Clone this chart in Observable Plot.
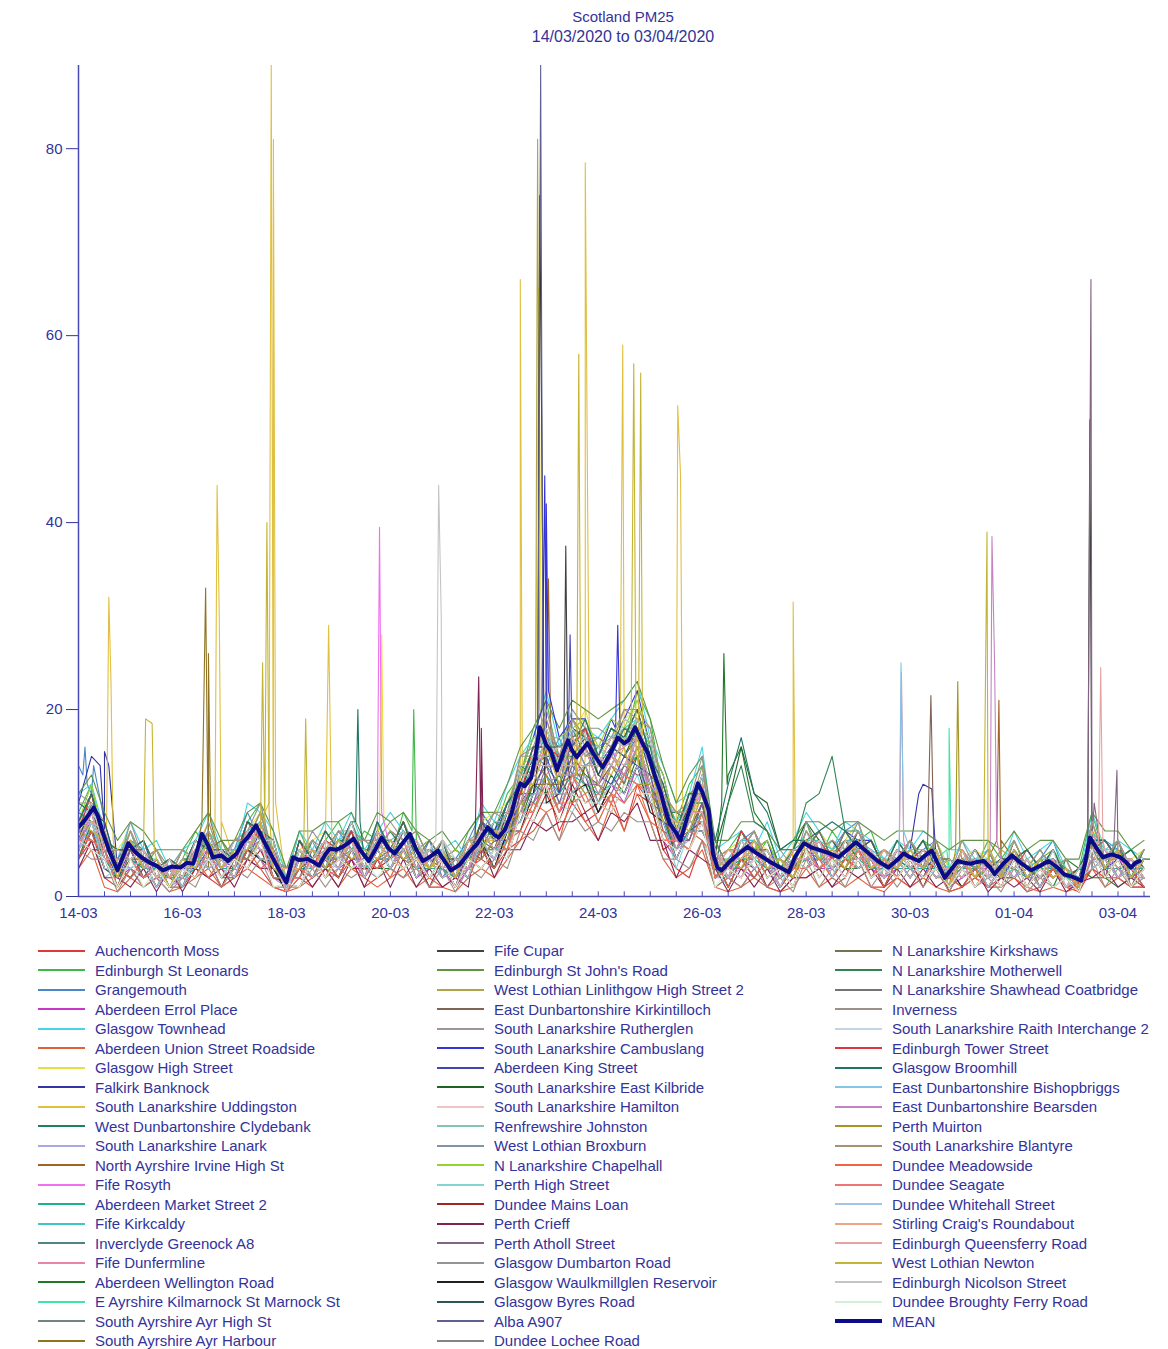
<!DOCTYPE html>
<html><head><meta charset="utf-8">
<script src="https://cdn.jsdelivr.net/npm/d3@7"></script>
<script src="https://cdn.jsdelivr.net/npm/@observablehq/plot@0.6"></script>
<style>
body{margin:0;background:#fff;font-family:"Liberation Sans",Arial,sans-serif;}
#wrap{position:relative;width:1168px;height:1349px;overflow:hidden;background:#fff;}
.t{position:absolute;left:623px;transform:translateX(-50%);color:#33339a;white-space:nowrap;line-height:1;}
#chart{position:absolute;left:0;top:50px;}
#ylab{position:absolute;left:20px;top:482px;transform:translate(-50%,-50%) rotate(-90deg);font-size:14px;color:#33339a;white-space:nowrap;}
.leg{position:absolute;top:941px;}
.row{height:19.5px;display:flex;align-items:center;}
.sw{width:47px;height:0;margin-right:10px;}
.lt{font-size:15px;color:#33339a;white-space:nowrap;}
</style></head>
<body>
<div id="wrap">
  <div class="t" style="top:9px;font-size:15px">Scotland PM25</div>
  <div class="t" style="top:29px;font-size:16px">14/03/2020 to 03/04/2020</div>
  <div id="ylab">PM25 ug/m<sup style="font-size:10px">3</sup></div>
  <div id="chart"></div>
</div>
<script>
// ---------- data ----------
const startDate = "2020-03-14T00:00Z";
const stepHours = 6; // station readings every 6 hours from start
const xTickLabels = ["2020-03-14","2020-03-16","2020-03-18","2020-03-20","2020-03-22","2020-03-24","2020-03-26","2020-03-28","2020-03-30","2020-04-01","2020-04-03"];
const yTicks = [0, 20, 40, 60, 80];

const stationNames = [
"Auchencorth Moss","Edinburgh St Leonards","Grangemouth","Aberdeen Errol Place","Glasgow Townhead","Aberdeen Union Street Roadside","Glasgow High Street","Falkirk Banknock","South Lanarkshire Uddingston","West Dunbartonshire Clydebank","South Lanarkshire Lanark","North Ayrshire Irvine High St","Fife Rosyth","Aberdeen Market Street 2","Fife Kirkcaldy","Inverclyde Greenock A8","Fife Dunfermline","Aberdeen Wellington Road","E Ayrshire Kilmarnock St Marnock St","South Ayrshire Ayr High St","South Ayrshire Ayr Harbour",
"Fife Cupar","Edinburgh St John's Road","West Lothian Linlithgow High Street 2","East Dunbartonshire Kirkintilloch","South Lanarkshire Rutherglen","South Lanarkshire Cambuslang","Aberdeen King Street","South Lanarkshire East Kilbride","South Lanarkshire Hamilton","Renfrewshire Johnston","West Lothian Broxburn","N Lanarkshire Chapelhall","Perth High Street","Dundee Mains Loan","Perth Crieff","Perth Atholl Street","Glasgow Dumbarton Road","Glasgow Waulkmillglen Reservoir","Glasgow Byres Road","Alba A907","Dundee Lochee Road",
"N Lanarkshire Kirkshaws","N Lanarkshire Motherwell","N Lanarkshire Shawhead Coatbridge","Inverness","South Lanarkshire Raith Interchange 2","Edinburgh Tower Street","Glasgow Broomhill","East Dunbartonshire Bishopbriggs","East Dunbartonshire Bearsden","Perth Muirton","South Lanarkshire Blantyre","Dundee Meadowside","Dundee Seagate","Dundee Whitehall Street","Stirling Craig's Roundabout","Edinburgh Queensferry Road","West Lothian Newton","Edinburgh Nicolson Street","Dundee Broughty Ferry Road"];

const stationColors = [
"#e03838","#40b848","#4a86c8","#c838c8","#48d4e4","#e0603c","#e8e040","#3434a4","#e0c040","#208060","#a8a8e4","#a06424","#f070f0","#20b090","#40c4c4","#508484","#e884a8","#207828","#40e4a4","#708484","#907424",
"#404040","#609444","#b0a448","#806454","#a09494","#3434d8","#4444b4","#206424","#f0c4c4","#84c4b4","#8494a4","#94d430","#84d4d4","#a42424","#802454","#846484","#949494","#202020","#305454","#606094","#848484",
"#747454","#308454","#747474","#9c9088","#c4d4e4","#e03444","#207464","#84c4e4","#c484c4","#a49424","#a49474","#f06444","#f07474","#a4c4e4","#f0a484","#e4a4a4","#c4b434","#c4c4c4","#d4f0d4"];

const meanName = "MEAN";
const meanColor = "#0c0c8a";

// readings at 6 h steps (index i -> hour 6*i), 4 per day
const stationValues = [
[4,6,2,1, 3,1,2,2, 1,3,2,1, 2,4,3,1, 0.5,2,1,3, 2,4,1,2, 3,2,4,1, 1,2,3,4, 3,5,6,9, 12,7,10,8, 9,11,7,12, 10,5,3,2, 6,1,2,1, 3,1,0.5,2, 2,3,1,2, 4,1,1,2, 1,2,3,0.5, 1,2,1,2, 2,0.5,1,3, 1,0.5,3,2, 2,1,1],
[9,12,5,4, 7,3,5,2, 4,7,5,6, 3,8,10,4, 2,7,4,6, 8,5,7,6, 4,9,6,4, 6,3,7,9, 7,11,13,18, 21,14,19,17, 15,18,16,22, 19,11,8,12, 14,4,5,7, 4,6,3,5, 8,4,7,5, 6,7,3,5, 4,6,5,2, 5,3,6,4, 6,3,4,5, 2,3,9,4, 6,3,5],
[14,11,8,3, 6,5,2,4, 3,5,7,3, 5,9,6,2, 2,4,6,3, 7,5,3,8, 4,7,3,6, 2,4,6,9, 7,9,11,15, 14,17,13,18, 13,16,12,19, 14,9,6,11, 12,2,4,6, 7,3,2,5, 6,4,5,7, 8,3,5,4, 3,5,6,2, 4,5,2,3, 5,2,4,6, 2,3,5,6, 5,3,4],
[5,7,3,2, 3,2,3,1, 2,3,4,2, 3,5,4,2, 1,3,2,4, 3,4,2,5, 3,5,2,3, 3,1,3,5, 4,6,9,10, 12,9,11,13, 9,12,10,14, 11,6,4,7, 8,2,3,3, 2,4,1,3, 4,3,3,5, 4,3,2,3, 3,2,4,1, 2,3,3,2, 3,2,2,3, 1,1,5,3, 3,2,2],
[11,12,7,4, 8,5,6,3, 5,6,9,5, 4,10,9,7, 2,7,5,8, 6,9,5,7, 9,7,6,4, 5,6,4,10, 8,12,15,17, 22,16,20,18, 17,19,21,23, 17,14,10,11, 16,5,6,7, 5,8,4,6, 9,7,5,8, 7,6,4,6, 5,7,6,3, 6,4,5,3, 7,4,5,6, 3,2,9,5, 6,5,4],
[3,5,1,0.5, 2,1,2,0.5, 1,2,3,1, 2,3,2,1, 0.5,1,2,3, 1,3,2,1, 2,3,1,2, 1,0.5,2,3, 2,4,6,7, 9,6,11,8, 6,10,7,11, 8,4,2,3, 5,1,0.5,1, 2,1,0.5,1, 3,1,2,1, 2,1,0.5,2, 1,2,1,0.5, 1,2,1,1, 2,1,0.5,1, 0.5,1,3,1, 2,1,1],
[8,10,6,5, 7,4,5,3, 3,5,8,4, 6,7,9,5, 2,5,6,7, 5,8,4,6, 7,5,6,4, 6,3,5,8, 9,10,14,15, 18,15,17,20, 15,17,19,20, 18,11,8,9, 13,4,5,6, 6,5,3,4, 6,7,5,6, 8,4,5,4, 5,4,6,3, 4,5,4,3, 5,4,3,5, 3,2,7,6, 4,4,5],
[10,15,7,3, 5,6,2,3, 3,5,4,4, 3,6,8,3, 1,4,6,4, 6,5,3,7, 5,7,4,5, 4,2,5,7, 6,9,11,15, 17,14,16,18, 14,16,18,17, 15,9,6,10, 11,3,3,5, 6,4,2,3, 5,6,4,5, 6,4,5,3, 5,12,4,2, 4,3,4,3, 4,3,2,4, 2,2,6,3, 4,3,4],
[8,9,5,3, 5,3,4,2, 3,4,6,4, 4,5,8,4, 1,4,3,5, 5,7,4,5, 6,5,4,3, 4,3,5,6, 6,8,12,13, 16,13,17,15, 14,15,16,18, 15,10,7,8, 11,4,3,5, 5,3,3,4, 5,6,4,5, 6,4,3,4, 4,3,5,2, 3,4,3,3, 4,3,3,4, 2,2,6,4, 4,3,3],
[6,8,4,2, 4,3,3,2, 2,4,5,3, 3,6,5,3, 1,3,4,3, 4,6,3,4, 5,4,5,3, 3,2,4,6, 5,7,9,12, 14,12,15,13, 12,14,13,16, 12,8,5,7, 10,2,3,4, 4,3,2,3, 4,5,3,4, 5,3,3,4, 3,3,4,2, 3,4,2,3, 4,2,3,3, 2,1.5,5,3, 3,2,3],
[5,7,3,2, 4,2,3,1, 2,3,4,3, 2,5,6,2, 1,3,2,4, 3,5,2,4, 4,3,4,2, 3,2,3,5, 4,6,9,10, 13,10,12,14, 10,12,13,15, 11,7,5,6, 9,2,2,3, 4,3,1,3, 4,4,3,5, 5,2,3,3, 3,2,4,1, 3,3,2,2, 3,2,2,3, 1,1,4,3, 3,2,2],
[6,8,6,2, 4,4,2,3, 2,4,5,2, 3,6,7,3, 1,3,4,3, 4,6,2,4, 5,4,3,4, 3,2,4,5, 5,7,10,12, 14,11,15,13, 12,14,13,15, 12,8,6,7, 10,3,2,4, 5,2,3,3, 5,4,4,5, 5,3,4,3, 3,4,3,2, 3,3,4,2, 4,3,2,3, 2,2,5,4, 4,2,3],
[7,8,6,3, 5,4,2,3, 3,4,5,3, 4,6,7,4, 2,4,5,4, 5,6,3,6, 5,7,4,4, 4,3,5,7, 7,8,12,13, 16,14,15,17, 13,15,16,17, 14,11,7,9, 11,4,3,5, 5,4,2,4, 6,5,4,5, 5,4,3,4, 4,3,5,2, 3,4,3,3, 4,3,3,4, 2,2,6,4, 4,3,3],
[6,7,4,2, 4,3,3,2, 2,3,5,3, 3,5,6,3, 1,3,3,4, 4,5,3,4, 4,5,3,3, 3,2,4,5, 5,6,10,11, 13,11,13,12, 11,12,14,15, 12,8,5,7, 9,3,2,4, 4,3,2,3, 4,4,3,4, 4,3,3,3, 3,3,3,2, 3,3,2,3, 3,2,3,3, 2,1.5,5,3, 3,3,3],
[8,10,7,3, 6,4,3,4, 3,5,6,4, 5,7,8,5, 2,5,4,5, 6,7,4,6, 6,7,5,5, 5,3,5,7, 7,9,13,15, 17,15,18,17, 16,17,18,19, 16,11,8,10, 12,4,4,6, 6,4,3,4, 6,6,5,6, 6,5,4,4, 5,5,4,3, 4,4,4,3, 5,3,4,4, 3,2,7,5, 5,3,4],
[6,10,4,4, 6,3,4,2, 4,3,7,3, 5,5,8,3, 2,3,6,4, 4,7,3,6, 6,5,6,3, 5,2,5,7, 5,9,11,14, 15,15,17,14, 15,14,17,16, 15,9,8,8, 12,3,4,4, 6,3,3,2, 6,4,5,4, 6,3,4,3, 5,3,5,2, 4,3,4,2, 5,3,2,4, 3,1,7,3, 5,3,4],
[5,9,4,3, 5,2,4,1, 3,5,4,2, 4,7,5,3, 2,3,5,2, 3,7,2,6, 4,6,3,2, 4,2,5,7, 5,8,10,14, 13,15,12,16, 12,15,13,17, 11,9,5,9, 9,2,4,3, 5,3,2,4, 6,3,5,3, 6,2,4,2, 3,4,2,3, 2,4,3,1, 5,2,4,2, 3,1,4,5, 3,4,2],
[4,8,3,2, 4,2,3,1, 3,2,5,2, 2,6,4,3, 1,4,2,4, 5,3,4,3, 3,5,2,4, 2,3,2,6, 3,7,8,12, 11,13,10,14, 10,13,11,15, 10,9,4,7, 8,4,13,16, 9,7,3,2, 5,3,4,3, 3,4,2,4, 2,4,2,3, 4,2,3,2, 2,3,3,1, 4,3,2,2, 1,2,4,4, 2,3,2],
[9,8,7,3, 6,4,4,2, 5,3,7,5, 3,8,6,5, 3,5,4,6, 4,8,5,5, 7,5,6,3, 5,4,4,8, 6,10,11,15, 16,13,18,15, 16,14,17,19, 14,11,6,10, 10,5,3,6, 4,5,2,4, 7,4,6,4, 5,6,3,5, 3,5,4,2, 5,3,4,2, 3,4,2,5, 3,1.5,7,4, 5,2,4],
[6,9,4,4, 4,5,2,3, 2,5,4,5, 5,5,7,3, 2,3,5,3, 6,4,5,4, 4,6,3,5, 3,4,3,7, 7,6,12,12, 14,14,14,16, 12,15,14,17, 12,10,6,9, 9,5,2,5, 4,5,2,4, 4,6,3,5, 4,5,2,5, 3,5,3,3, 2,4,2,4, 3,4,2,4, 3,1,6,3, 5,2,4],
[7,6,5,1, 5,2,3,1, 1,4,3,4, 2,6,4,4, 0.5,4,2,5, 3,6,2,5, 3,6,2,4, 2,3,3,6, 4,7,9,12, 12,12,13,13, 10,14,12,16, 11,9,5,8, 8,4,2,5, 3,4,1,4, 3,5,3,5, 3,4,2,4, 2,4,2,3, 2,4,2,3, 2,4,1,4, 1,2,4,4, 2,3,2],
[4,7,3,3, 2,4,1,3, 1,4,3,4, 2,5,4,4, 0.5,4,2,4, 2,5,2,5, 3,5,2,4, 2,3,2,6, 3,7,8,11, 11,11,11,13, 9,12,11,14, 10,8,4,7, 7,4,1,4, 3,4,1,3, 3,5,2,5, 3,4,2,4, 2,4,2,3, 2,4,1,3, 2,3,1,4, 1,2,3,4, 2,3,2],
[11,13,9,6, 8,7,5,5, 5,7,9,6, 6,9,10,7, 3,7,7,8, 8,9,6,9, 8,9,7,6, 7,5,7,9, 9,12,16,18, 21,18,21,20, 19,20,21,23, 19,14,10,13, 15,6,6,8, 8,7,5,6, 8,8,7,8, 8,7,6,7, 7,7,6,5, 6,6,6,5, 7,5,6,6, 4,4,9,7, 7,5,6],
[7,11,5,5, 5,6,3,4, 3,6,5,5, 4,8,7,6, 1,6,4,6, 5,8,4,7, 5,8,4,6, 4,5,4,8, 6,10,12,16, 16,16,16,18, 14,17,17,20, 15,12,7,11, 11,6,3,7, 5,6,2,5, 5,7,4,7, 5,6,3,6, 4,6,3,4, 3,5,3,5, 4,5,3,5, 2,3,6,6, 4,5,3],
[8,8,7,2, 6,3,4,2, 4,3,6,3, 5,5,8,3, 3,3,5,4, 6,5,5,4, 6,5,6,3, 5,2,6,5, 7,7,13,13, 17,13,17,15, 15,14,17,17, 15,9,8,8, 12,3,5,4, 6,3,4,2, 6,4,5,4, 6,3,5,3, 5,3,5,1, 5,2,4,2, 5,2,4,2, 3,1,7,3, 5,2,4],
[9,9,7,3, 7,3,5,2, 4,4,7,4, 6,6,9,4, 3,4,6,4, 7,6,6,5, 7,6,6,3, 6,2,6,6, 8,8,14,14, 19,14,19,16, 17,16,18,18, 17,10,9,9, 13,3,5,5, 7,3,4,3, 7,5,6,4, 7,4,5,3, 6,3,6,2, 5,3,5,2, 6,3,5,3, 4,1,8,4, 6,2,5],
[8,11,6,5, 5,6,3,4, 3,6,5,5, 4,8,7,6, 1,6,4,7, 5,8,4,8, 5,8,5,6, 4,5,4,8, 7,10,13,17, 18,17,19,19, 15,19,19,22, 16,13,7,11, 12,6,3,7, 5,6,2,5, 5,7,4,7, 6,6,3,6, 4,6,4,4, 3,5,3,4, 4,5,3,5, 2,3,6,6, 4,5,3],
[7,7,5,2, 5,2,4,1, 3,3,5,2, 4,4,7,2, 2,2,5,3, 5,4,4,3, 5,4,5,2, 4,1,5,4, 6,6,11,11, 15,11,16,16, 13,12,15,14, 13,8,7,6, 10,2,4,3, 5,2,3,2, 6,3,4,3, 6,3,4,2, 4,2,5,1, 4,2,4,2, 4,2,4,2, 3,1,6,3, 4,2,4],
[6,10,4,4, 4,5,2,4, 2,5,4,5, 3,7,6,5, 0.5,5,3,5, 4,7,3,6, 4,7,4,5, 3,4,3,7, 5,9,11,15, 15,15,15,17, 13,16,15,18, 13,11,6,10, 10,5,10,16, 11,10,5,5, 8,6,3,6, 4,5,2,5, 3,5,3,3, 2,4,2,4, 3,4,2,4, 1,3,5,5, 3,4,2],
[9,8,7,3, 6,3,4,2, 4,4,6,3, 5,5,8,4, 3,3,6,4, 6,6,5,5, 7,5,6,3, 5,2,6,5, 8,7,14,13, 17,14,18,15, 16,15,18,17, 16,9,9,8, 13,3,5,4, 6,3,4,3, 7,4,5,4, 7,3,5,3, 5,3,5,2, 5,3,4,2, 5,2,4,3, 3,1,7,3, 6,2,5],
[5,8,4,4, 3,4,1,4, 1,5,3,4, 2,6,5,4, 0.5,4,3,5, 3,6,2,6, 3,6,3,4, 2,3,3,6, 4,8,9,13, 12,13,13,14, 11,14,13,16, 11,10,5,8, 8,4,2,5, 3,4,1,4, 4,5,3,5, 4,4,2,4, 2,4,2,3, 2,4,2,3, 2,4,2,4, 1,2,4,5, 2,4,2],
[8,8,6,2, 6,3,4,1, 4,3,6,3, 5,4,8,3, 2,3,5,3, 6,5,5,4, 6,4,5,3, 5,2,5,5, 7,7,12,12, 16,12,17,14, 15,14,17,15, 15,8,8,7, 11,3,4,4, 6,3,4,2, 6,4,5,4, 6,3,4,3, 5,3,5,1, 4,2,4,2, 5,2,4,2, 3,1,7,3, 5,2,4],
[8,12,6,5, 5,6,3,4, 3,6,5,6, 4,8,7,6, 1,6,4,7, 5,8,4,8, 5,8,5,6, 4,5,4,8, 6,10,13,17, 17,17,18,19, 16,19,18,21, 16,13,7,11, 12,6,3,7, 5,6,3,5, 5,7,4,7, 5,6,3,6, 4,6,4,4, 3,5,3,4, 4,5,3,5, 2,3,6,6, 4,5,3],
[4,7,2,3, 2,3,1,3, 1,4,2,4, 2,5,4,3, 0.5,3,2,4, 2,5,2,4, 2,5,2,4, 2,3,2,5, 3,6,7,10, 10,10,9,12, 8,11,10,13, 9,8,3,7, 6,3,1,4, 2,4,1,3, 3,4,2,4, 3,4,1,4, 2,4,2,3, 1,3,1,3, 2,3,1,3, 1,1.5,3,4, 2,3,1],
[6,5,5,1, 4,2,3,1, 3,2,4,1, 4,3,5,2, 1.5,1,4,2, 4,3,3,3, 4,3,4,1, 4,1,4,3, 5,4,9,8, 11,8,12,9, 10,9,12,11, 10,5,6,5, 8,2,3,2, 4,1,3,1, 5,2,4,2, 5,2,3,2, 4,1,4,0.5, 3,1,3,1, 4,1,3,1, 2,0.5,5,2, 4,1,3],
[3,6,2,2, 1,3,0.5,3, 0.5,3,2,3, 1,4,3,3, 0.5,3,1,3, 1,4,1,4, 1,4,1,3, 1,2,1,4, 2,5,5,8, 7,8,8,9, 6,9,8,10, 6,6,2,5, 4,3,0.5,3, 1,3,0.5,2, 2,3,1,3, 2,3,1,3, 1,3,1,2, 1,3,0.5,2, 1,2,0.5,3, 0.5,1.5,2,3, 1,2,1],
[7,6,5,1, 5,2,4,1, 3,2,5,2, 4,4,6,2, 2,2,4,3, 5,4,4,3, 5,4,5,2, 4,1,5,4, 6,5,11,10, 14,10,14,12, 12,11,14,13, 13,7,6,6, 10,2,4,3, 5,2,3,2, 5,3,4,3, 5,2,4,2, 4,2,4,1, 4,2,3,1, 4,1,4,2, 3,0.5,6,2, 4,1,4],
[11,10,8,3, 8,4,5,3, 5,4,8,4, 6,7,10,4, 3,4,7,5, 7,7,6,6, 8,6,7,4, 6,3,6,7, 9,9,15,16, 20,15,20,18, 18,17,20,20, 18,11,9,10, 15,4,5,5, 7,4,5,3, 8,5,6,5, 8,4,5,4, 6,4,6,2, 6,3,5,3, 6,3,5,3, 4,1,8,4, 6,3,5],
[4,7,3,3, 2,4,1,3, 1,4,3,4, 2,5,4,3, 0.5,4,2,4, 2,5,2,5, 3,5,2,4, 2,3,2,5, 3,7,7,11, 10,11,11,12, 9,12,11,14, 9,8,4,7, 7,4,1,4, 2,4,1,3, 3,5,2,4, 3,4,1,4, 2,4,2,3, 1,3,1,3, 2,3,1,4, 1,1.5,3,4, 2,3,1],
[10,9,8,3, 7,4,5,2, 5,4,7,3, 6,6,9,4, 3,4,6,4, 7,6,6,5, 7,6,6,3, 6,2,6,6, 8,8,14,14, 18,14,18,17, 17,16,19,18, 17,10,9,9, 13,4,5,5, 7,4,4,3, 7,5,6,4, 7,4,5,4, 6,4,5,2, 5,3,5,2, 6,3,5,3, 4,1,8,4, 6,3,5],
[6,9,4,4, 4,5,2,3, 2,5,4,5, 3,7,5,5, 0.5,5,3,5, 4,7,3,6, 4,6,3,5, 3,4,3,7, 5,8,10,14, 14,14,14,16, 12,16,15,17, 12,10,6,9, 9,5,2,6, 4,5,2,4, 4,6,3,5, 4,5,2,5, 3,5,3,3, 2,4,2,4, 3,4,2,4, 1,3,5,5, 3,4,2],
[6,6,5,1, 4,2,3,1, 3,2,5,2, 4,3,6,2, 2,2,4,2, 4,3,4,3, 5,3,4,2, 4,1,4,3, 5,5,9,9, 13,9,13,10, 11,10,13,12, 11,6,6,5, 9,2,3,2, 5,2,3,1, 5,3,4,2, 5,2,4,2, 4,2,4,1, 4,1,3,1, 4,1,3,2, 3,0.5,5,2, 4,1,3],
[7,11,5,5, 5,5,3,4, 2,6,5,6, 4,8,7,5, 1,6,4,6, 5,8,4,7, 5,8,4,5, 4,4,4,8, 6,10,12,16, 16,16,17,18, 15,18,17,20, 15,12,7,11, 11,5,3,7, 5,5,2,5, 5,7,4,6, 5,6,3,5, 4,5,4,4, 3,5,3,4, 4,5,3,5, 2,3,6,6, 4,4,3],
[9,8,7,3, 6,3,4,2, 4,4,6,3, 5,5,8,4, 3,3,6,4, 6,6,5,5, 7,5,6,3, 5,2,6,5, 8,7,14,13, 17,14,18,15, 16,15,18,17, 16,9,9,8, 13,3,10,14, 8,7,3,5, 10,11,15,7, 7,4,5,4, 6,3,5,2, 5,3,4,2, 5,2,4,3, 3,1,7,3, 6,2,5],
[8,11,5,5, 5,6,3,4, 3,6,5,5, 4,8,7,6, 1,6,4,7, 5,8,4,7, 5,8,4,6, 4,4,4,8, 6,10,12,16, 17,16,17,18, 15,18,17,20, 15,12,7,11, 11,6,3,7, 5,5,2,5, 5,7,4,7, 5,6,3,5, 4,6,3,4, 3,5,3,4, 4,5,3,5, 2,3,6,6, 4,5,3],
[5,4,4,0.5, 3,1,2,0.5, 2,1,4,1, 3,2,4,1, 1,1,3,1, 3,2,3,2, 3,2,3,1, 3,0.5,3,2, 4,3,7,6, 9,6,9,7, 8,7,9,8, 8,4,4,3, 6,1,2,1, 3,1,2,0.5, 4,1,3,1, 4,1,3,1, 3,1,3,0.5, 3,1,2,0.5, 3,0.5,2,1, 2,0.5,4,1, 3,1,2],
[9,9,7,3, 7,4,5,2, 5,4,7,3, 6,6,9,4, 3,4,6,4, 7,6,6,5, 7,6,6,4, 6,3,6,6, 8,8,14,14, 18,14,18,16, 16,15,19,18, 17,10,9,9, 13,4,5,5, 7,4,4,3, 7,5,6,5, 7,4,5,4, 6,4,5,2, 5,3,5,3, 6,3,5,3, 4,1,8,4, 6,3,5],
[7,11,5,5, 5,5,2,4, 2,6,5,5, 3,8,6,5, 1,6,3,6, 5,7,3,7, 5,8,4,5, 4,4,4,8, 6,9,11,16, 16,15,16,18, 14,17,16,19, 14,11,7,10, 11,5,3,7, 5,5,2,5, 5,6,4,6, 5,6,3,5, 4,5,3,4, 3,5,3,4, 3,5,3,5, 2,3,5,6, 4,4,3],
[8,11,6,5, 5,6,3,4, 3,6,5,5, 4,8,7,6, 1,6,4,7, 5,8,4,8, 5,8,4,5, 4,4,4,8, 6,10,12,16, 16,16,16,19, 15,18,17,20, 15,12,7,11, 11,6,12,17, 11,9,5,6, 6,7,8,7, 5,6,3,6, 4,6,3,4, 3,5,3,4, 4,5,3,5, 2,3,6,6, 4,5,3],
[8,8,6,2, 6,3,4,2, 4,3,6,3, 5,5,8,3, 2,3,5,3, 6,5,5,4, 6,5,6,3, 5,2,5,5, 7,7,13,13, 17,13,17,15, 15,14,17,16, 15,9,8,8, 12,3,4,4, 6,3,4,2, 6,4,5,4, 6,3,4,3, 5,3,5,1, 4,2,4,2, 5,2,4,2, 3,1,7,3, 5,2,4],
[5,9,4,4, 3,4,2,3, 2,5,3,4, 2,6,5,4, 0.5,4,3,5, 3,6,2,5, 3,6,3,4, 2,3,3,6, 4,8,9,13, 12,13,13,14, 11,14,13,16, 11,10,5,8, 8,4,2,5, 3,4,1,4, 4,5,3,5, 4,4,2,4, 2,4,2,3, 2,4,2,4, 2,4,2,4, 1,2,4,5, 2,4,2],
[7,6,5,1, 4,2,3,1, 3,2,5,2, 4,4,6,2, 2,2,4,2, 5,3,4,3, 5,3,4,2, 4,1,4,4, 6,5,10,9, 13,9,13,11, 12,10,13,12, 12,6,6,5, 9,2,4,3, 5,2,3,2, 5,3,4,3, 5,2,4,2, 4,2,4,1, 4,2,3,1, 4,1,3,2, 3,0.5,5,2, 4,1,3],
[10,10,7,3, 7,4,5,2, 5,4,7,4, 6,6,9,4, 3,4,6,5, 7,6,6,5, 7,6,7,4, 6,3,6,6, 9,8,15,15, 19,15,19,17, 17,16,20,19, 18,11,9,9, 14,4,5,5, 7,4,4,3, 7,5,6,5, 7,4,5,4, 6,4,6,2, 5,3,5,2, 6,3,5,3, 4,1,8,4, 6,3,5],
[4,7,3,3, 2,4,1,3, 1,4,2,4, 2,5,3,4, 0.5,3,2,4, 2,5,2,4, 2,5,2,4, 2,3,2,5, 3,6,7,10, 9,10,10,11, 8,11,10,12, 8,7,4,7, 6,4,1,4, 2,4,1,3, 3,4,2,4, 3,4,1,4, 2,4,2,2, 1,3,1,3, 2,3,1,3, 1,1.5,3,4, 2,3,1],
[6,6,5,1, 4,2,3,1, 3,2,5,2, 4,3,6,2, 2,2,4,2, 4,3,4,3, 5,3,4,2, 4,1,4,3, 5,5,9,9, 12,9,13,10, 11,10,13,12, 11,6,6,5, 9,2,3,2, 5,2,3,1, 5,3,4,2, 5,2,4,2, 4,2,4,1, 4,1,3,1, 4,1,3,2, 3,0.5,5,2, 4,1,3],
[5,8,3,3, 3,4,1,3, 1,4,3,4, 2,6,4,4, 0.5,4,2,4, 3,5,2,5, 3,5,2,4, 2,3,2,6, 4,7,8,11, 11,11,11,13, 10,12,11,14, 10,8,4,7, 7,4,2,5, 3,4,1,4, 3,5,2,5, 3,4,2,4, 2,4,2,3, 2,4,1,3, 2,3,1,4, 1,2,3,4, 2,3,2],
[8,8,7,2, 6,3,4,2, 4,3,6,3, 5,5,8,3, 3,3,5,4, 6,5,5,4, 6,5,6,3, 5,2,6,5, 7,7,13,13, 17,13,17,15, 15,14,17,17, 15,9,8,8, 12,3,5,4, 6,3,4,2, 6,4,5,4, 6,3,5,3, 5,3,5,1, 5,2,4,2, 5,2,4,2, 3,1,7,3, 5,2,4],
[6,9,4,4, 4,5,2,3, 2,5,4,5, 3,7,5,5, 0.5,5,3,5, 4,6,3,6, 4,6,3,5, 3,4,3,7, 5,8,10,14, 14,14,14,16, 12,15,14,17, 12,10,6,9, 9,5,2,5, 4,5,2,4, 4,6,3,5, 4,5,2,5, 3,5,3,3, 2,4,2,4, 3,4,2,4, 1,3,5,5, 3,4,2],
[8,7,6,2, 6,3,4,1, 4,3,6,3, 5,5,7,3, 2,3,5,3, 6,4,5,4, 6,4,5,3, 5,2,5,5, 7,6,12,12, 16,12,16,14, 14,13,16,15, 14,8,8,7, 11,3,4,3, 6,3,4,2, 6,4,5,3, 6,3,4,3, 5,3,5,1, 4,2,4,2, 5,2,4,2, 3,1,6,3, 5,2,4],
[7,10,5,5, 4,5,2,4, 2,6,4,5, 3,7,6,6, 1,5,4,6, 4,8,3,7, 5,7,4,5, 3,4,4,7, 6,9,12,15, 15,16,16,17, 14,17,16,19, 14,11,7,10, 11,5,3,6, 4,5,2,5, 5,6,3,6, 5,5,3,5, 3,5,3,4, 3,5,2,4, 3,4,2,5, 1,3,5,5, 4,4,3],
[6,5,4,1, 4,1,3,1, 3,2,4,2, 4,3,6,1, 1.5,1,4,2, 4,3,4,2, 4,3,4,2, 4,1,4,3, 5,4,9,8, 12,8,11,10, 10,9,12,11, 11,6,5,5, 8,1,3,2, 4,2,3,1, 5,2,4,2, 4,2,3,2, 4,2,3,1, 3,1,3,1, 4,1,3,1, 2,0.5,5,2, 4,1,3]
];

// short-lived peaks: [hour since start, value]
const stationPeaks = {
"Edinburgh St Leonards": [[154,7],[154.8,20],[156,7]],
"Grangemouth": [[2,13],[3,16],[4,12],[7,14]],
"Glasgow High Street": [[139,8],[140,28],[141,8],[211,15],[212.5,65],[214,15]],
"Falkirk Banknock": [[10,14],[12,15.5],[14,14],[388,11],[394,11.5]],
"South Lanarkshire Uddingston": [[13,8],[14,32],[15,23],[16,6],[63,7],[64,44],[65,30],[66,8],[88,10],[89,89],[90,81],[91,10],[114,6],[115.5,29],[117,6],[203,9],[204,66],[205,9],[233,12],[234,78.5],[235,45],[236,12],[250,14],[251.3,59],[252.5,15],[276,9],[276.7,52.5],[278,45],[279,9],[329,5],[330,31.5],[331,6]],
"North Ayrshire Irvine High St": [[216,18],[217,34],[218,18],[424,6],[425,21],[426,6]],
"Fife Rosyth": [[138,8],[139,39.5],[140,9]],
"Fife Dunfermline": [[379,5],[380,24],[381,6]],
"Aberdeen Wellington Road": [[297,10],[298,26],[299.5,12]],
"E Ayrshire Kilmarnock St Marnock St": [[401,5],[402,18],[403,5]],
"South Ayrshire Ayr Harbour": [[57,8],[58.7,33],[60,26],[61,8]],
"Fife Cupar": [[224,14],[225,37.5],[226,14],[466,5],[467,51],[468,6]],
"West Lothian Linlithgow High Street 2": [[211,15],[212,81],[213,20]],
"East Dunbartonshire Kirkintilloch": [[392,5],[393.6,21.5],[395,5]],
"South Lanarkshire Cambuslang": [[214,20],[215.3,45],[216,42],[217,22],[248,18],[249,29],[250,18]],
"Aberdeen King Street": [[226,14],[227,28],[228,14]],
"Perth Crieff": [[183,5],[184.8,23.5],[186,18],[187,5]],
"Perth Atholl Street": [[466,6],[467.5,66],[469,10],[478,5],[479.5,13.5],[481,5]],
"Glasgow Waulkmillglen Reservoir": [[212,14],[213,75],[214,47],[215,15]],
"Alba A907": [[212,15],[213.4,89],[214.5,20]],
"Glasgow Broomhill": [[128,8],[129,20],[130,8]],
"East Dunbartonshire Bishopbriggs": [[379,6],[379.8,25],[381,7]],
"East Dunbartonshire Bearsden": [[421,6],[421.8,38.5],[423,25],[424,6]],
"Perth Muirton": [[405,5],[406,23],[407,5]],
"Edinburgh Queensferry Road": [[471,6],[472,24.5],[473,6]],
"West Lothian Newton": [[30,5],[31,19],[34,18.5],[35,5],[84,6],[85,25],[86,8],[87,40],[88,9],[104,5],[104.9,19],[106,5],[230,13],[231,58],[232,14],[255,13],[256.4,57],[257.5,15],[258.5,14],[259.6,56],[260.5,14],[418,5],[419.5,39],[421,5]],
"Edinburgh Nicolson Street": [[165,6],[166.3,44],[167.5,30],[168.5,6]]
};

// MEAN: [hour since start, value]
const meanSeries = [[0,7.4],[3,8.2],[7,9.5],[9,8.6],[11,7],[14,5],[18,2.8],[21,4.5],[23,5.7],[26,4.8],[29,4.2],[33,3.6],[36,3.3],[39,2.8],[43,3.2],[47,3.1],[50,3.6],[53,3.5],[57,6.7],[60,5.4],[62,4.2],[66,4.4],[69,3.8],[73,4.6],[76,5.8],[78,6.3],[82,7.6],[85,6.2],[87,5.3],[90,4],[92,3.1],[96,1.5],[99,4.2],[102,3.9],[106,4.0],[109,3.6],[111,3.3],[114,4.5],[116,5.1],[119,5],[122,5.3],[125,5.8],[127,6.2],[130,5],[134,3.8],[137,5],[140,6.3],[143,5.2],[146,4.6],[150,5.8],[153,6.7],[156,5],[159,3.8],[162,4.2],[166,4.9],[169,3.8],[172,2.8],[176,3.4],[180,4.6],[184,5.6],[189,7.4],[192,6.6],[194,6.3],[197,7.2],[200,8.9],[202,10.8],[204,12.1],[206,11.8],[209,12.7],[211,15],[213,18.1],[216,16.2],[218,15.6],[221,13.5],[224,15.5],[226,16.7],[228,15.6],[230,14.9],[233,15.8],[235,16.4],[238,15.2],[242,13.8],[245,15],[249,17],[252,16.4],[254,16.7],[257,18.1],[260,16.6],[263,15.3],[266,13],[269,11],[271,9.2],[273,7.8],[276,6.8],[278,6],[281,8.4],[284,10.6],[286,12.1],[288,11.2],[291,9.2],[293,4.6],[295,3.1],[297,2.8],[299,3.3],[301,3.8],[305,4.6],[309,5.3],[312,4.8],[316,4.2],[320,3.6],[324,3.1],[328,2.6],[331,4.3],[335,5.7],[339,5.2],[343,4.9],[347,4.6],[351,4.2],[355,5],[359,5.8],[362,5.2],[365,4.6],[369,3.8],[374,3.1],[378,3.9],[381,4.6],[384,4.2],[388,3.8],[391,4.4],[394,4.9],[397,3.4],[400,2.0],[403,2.9],[406,3.8],[409,3.6],[412,3.5],[415,3.7],[418,3.8],[421,3.1],[423,2.4],[427,3.5],[431,4.4],[435,3.6],[440,2.8],[444,3.3],[448,3.8],[452,3.1],[455,2.4],[459,2.1],[463,1.7],[465,3.8],[467,6.3],[470,5.2],[473,4.2],[477,4.5],[481,4.2],[484,3.6],[486,3.1],[488,3.6],[490,3.8]];

// ---------- build ----------
const t0 = new Date(startDate).getTime();
const HOUR = 3600e3;
const toDate = h => new Date(t0 + h * HOUR);

const rows = [];
stationNames.forEach((name, k) => {
  const pts = (stationValues[k] || []).map((v, i) => [i * stepHours, v]).concat(stationPeaks[name] || []);
  pts.sort((a, b) => a[0] - b[0]);
  for (const [h, v] of pts) rows.push({name, t: toDate(h), v});
});
const meanRows = meanSeries.map(([h, v]) => ({t: toDate(h), v}));
const xTicks = xTickLabels.map(s => new Date(s + "T00:00Z"));
const minorTicks = d3.utcHour.every(12).range(toDate(0), toDate(494));
const axisColor = "#4a4ab6";

const chart = Plot.plot({
  width: 1168, height: 880,
  marginLeft: 78, marginRight: 18, marginTop: 15, marginBottom: 34,
  style: {fontFamily: "'Liberation Sans', Arial, sans-serif", fontSize: "15px", color: "#33339a", background: "white", overflow: "visible"},
  x: {type: "utc", domain: [toDate(0), toDate(495)], ticks: xTicks, tickFormat: "%d-%m", tickSize: 0, tickPadding: 11, label: null},
  y: {domain: [0, 88.9], ticks: yTicks, tickSize: 12, tickPadding: 4, label: null},
  color: {domain: stationNames, range: stationColors},
  marks: [
    Plot.line(rows, {x: "t", y: "v", z: "name", stroke: "name", strokeWidth: 1.1, clip: true}),
    Plot.line(meanRows, {x: "t", y: "v", stroke: meanColor, strokeWidth: 4, strokeLinejoin: "round", clip: true}),
    Plot.ruleY([0], {stroke: axisColor, strokeWidth: 1.5}),
    Plot.ruleX([toDate(0)], {y1: 0, y2: 88.9, stroke: axisColor, strokeWidth: 1.5}),
    Plot.ruleX(minorTicks, {y1: 0, y2: 0.5, stroke: axisColor})
  ]
});
document.getElementById("chart").appendChild(chart);

// ---------- legend ----------
const wrap = document.getElementById("wrap");
const legendItems = stationNames.map((n, i) => ({name: n, color: stationColors[i], w: 2}));
legendItems.push({name: meanName, color: meanColor, w: 4});
const colLefts = [38, 437, 835];
[legendItems.slice(0, 21), legendItems.slice(21, 42), legendItems.slice(42)].forEach((items, c) => {
  const col = document.createElement("div");
  col.className = "leg";
  col.style.left = colLefts[c] + "px";
  for (const it of items) {
    const row = document.createElement("div");
    row.className = "row";
    const sw = document.createElement("div");
    sw.className = "sw";
    sw.style.borderTop = it.w + "px solid " + it.color;
    const tx = document.createElement("div");
    tx.className = "lt";
    tx.textContent = it.name;
    row.appendChild(sw); row.appendChild(tx);
    col.appendChild(row);
  }
  wrap.appendChild(col);
});
</script>
</body></html>
